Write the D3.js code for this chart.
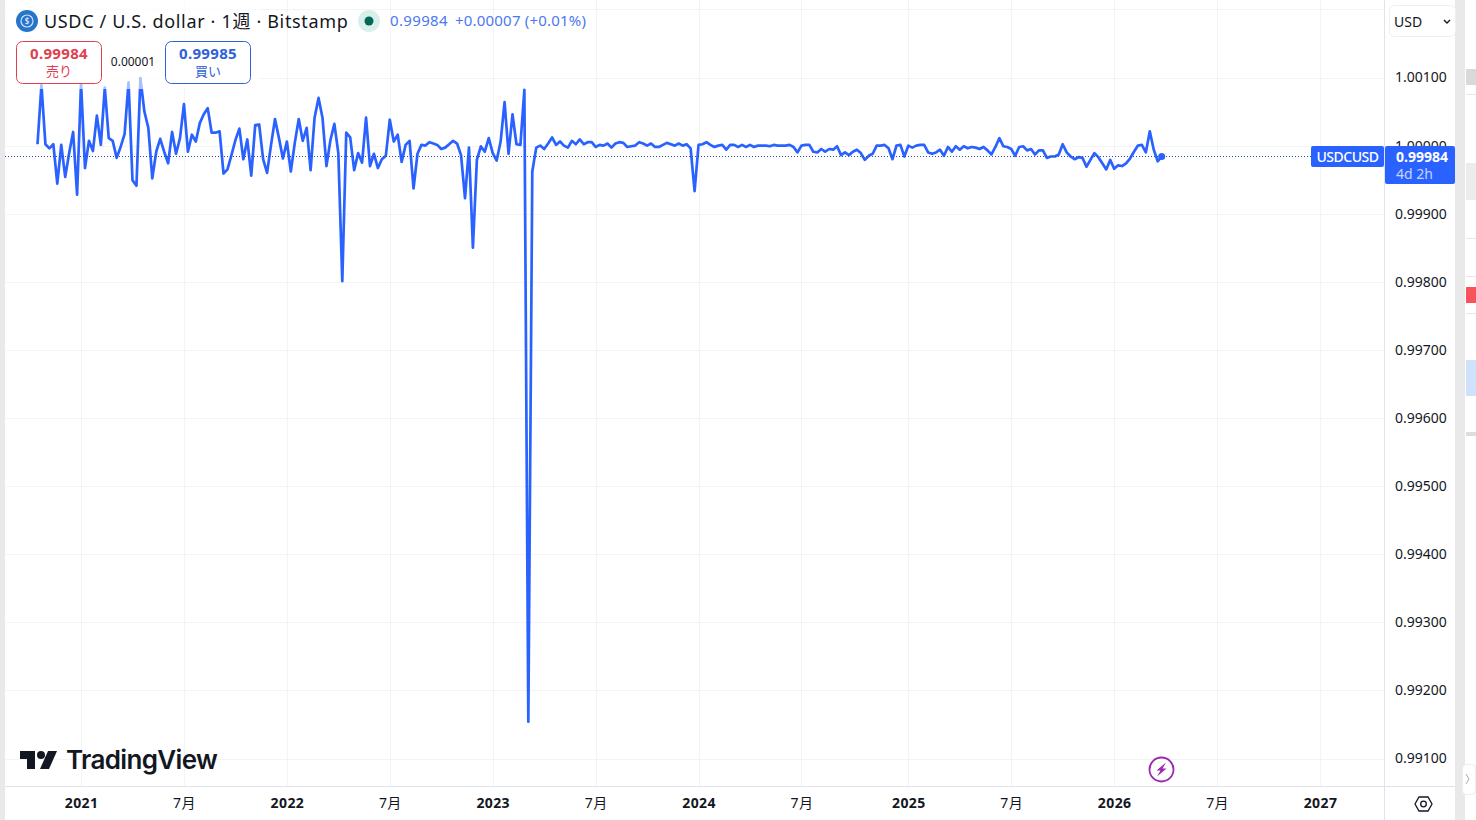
<!DOCTYPE html>
<html lang="ja">
<head>
<meta charset="utf-8">
<title>USDCUSD</title>
<script src="https://cdn.jsdelivr.net/npm/d3@7"></script>
<style>
  html, body { margin: 0; padding: 0; background: #fff; overflow: hidden; }
  svg { display: block; font-family: "Noto Sans", "Noto Sans CJK JP", sans-serif; }
  .tick text { fill: #131722; }
</style>
</head>
<body>
<div id="chart"></div>
<script>
// weekly closes, one per week from firstWeek
const firstWeek = "2020-10-19";
const closes = [
  1.00002, 1.00089, 1.00002, 0.99996, 1.00002, 0.99944, 1.00001, 0.99954, 0.99989, 1.00020,
  0.99928, 1.00092, 0.99967, 1.00007, 0.99992, 1.00044, 1.00001, 1.00085, 1.00011, 1.00007,
  0.99982, 0.99998, 1.00017, 1.00093, 0.99949, 0.99941, 1.00099, 1.00050, 1.00026, 0.99952,
  0.99991, 1.00010, 0.99991, 0.99974, 1.00020, 0.99988, 1.00011, 1.00061, 0.99991, 1.00016,
  1.00006, 1.00033, 1.00046, 1.00055, 1.00019, 1.00019, 1.00021, 0.99959, 0.99965, 0.99986,
  1.00008, 1.00025, 0.99980, 1.00009, 0.99956, 1.00030, 1.00031, 0.99980, 0.99960, 1.00001,
  1.00039, 1.00011, 0.99981, 1.00006, 0.99962, 1.00004, 1.00039, 1.00007, 1.00026, 0.99964,
  1.00041, 1.00070, 1.00041, 0.99970, 1.00008, 1.00032, 0.99989, 0.99801, 1.00019, 1.00012,
  0.99964, 0.99989, 0.99975, 1.00041, 0.99970, 0.99988, 0.99967, 0.99980, 0.99985, 1.00038,
  1.00006, 1.00016, 0.99976, 1.00001, 1.00007, 0.99937, 0.99988, 1.00001, 1.00000, 1.00005,
  1.00003, 1.00001, 0.99995, 0.99997, 1.00002, 1.00007, 1.00003, 0.99986, 0.99923, 0.99997,
  0.99850, 0.99979, 0.99999, 0.99991, 1.00011, 0.99989, 0.99978, 1.00006, 1.00064, 0.99988,
  1.00046, 1.00002, 1.00001, 1.00082, 0.99154, 0.99962, 0.99997, 1.00000, 0.99995, 1.00003,
  1.00012, 1.00001, 1.00006, 1.00000, 0.99997, 1.00007, 1.00002, 1.00009, 1.00002, 1.00005,
  1.00005, 0.99998, 1.00001, 1.00000, 1.00003, 0.99997, 1.00003, 1.00005, 1.00004, 0.99998,
  0.99999, 1.00000, 1.00005, 1.00003, 1.00000, 1.00003, 0.99998, 0.99998, 1.00001, 1.00004,
  1.00002, 1.00000, 1.00003, 1.00000, 1.00002, 0.99996, 0.99933, 1.00001, 1.00002, 1.00005,
  1.00001, 0.99998, 1.00000, 1.00001, 0.99994, 1.00001, 1.00001, 0.99998, 1.00001, 0.99998,
  1.00001, 0.99998, 1.00000, 1.00000, 1.00000, 0.99999, 1.00001, 1.00000, 1.00000, 1.00000,
  1.00001, 0.99998, 0.99990, 1.00000, 1.00001, 1.00001, 0.99991, 0.99990, 0.99995, 0.99991,
  0.99995, 0.99994, 0.99999, 0.99986, 0.99990, 0.99986, 0.99991, 0.99994, 0.99989, 0.99979,
  0.99985, 0.99988, 1.00000, 1.00000, 1.00001, 0.99996, 0.99980, 1.00000, 1.00001, 0.99984,
  1.00000, 0.99997, 1.00000, 1.00001, 1.00001, 0.99990, 0.99988, 0.99990, 0.99994, 0.99985,
  0.99998, 0.99991, 0.99999, 0.99994, 0.99999, 0.99996, 0.99998, 0.99997, 0.99995, 0.99998,
  0.99993, 0.99987, 0.99998, 1.00011, 0.99999, 0.99998, 0.99995, 0.99985, 0.99998, 0.99999,
  0.99993, 0.99995, 0.99987, 0.99993, 0.99993, 0.99982, 0.99984, 0.99984, 0.99987, 1.00002,
  0.99990, 0.99984, 0.99980, 0.99983, 0.99982, 0.99969, 0.99979, 0.99989, 0.99983, 0.99974,
  0.99965, 0.99979, 0.99966, 0.99971, 0.99970, 0.99974, 0.99981, 0.99991, 1.00000, 1.00001,
  0.99990, 1.00021, 0.99994, 0.99977, 0.99984
];

const timeTickDates = ["2021-01-04", "2021-07-05", "2022-01-03", "2022-07-04", "2023-01-02", "2023-07-03",
  "2024-01-01", "2024-07-01", "2025-01-06", "2025-07-07", "2026-01-05", "2026-07-06", "2027-01-04"];
const timeTickLabels = ["2021", "7月", "2022", "7月", "2023", "7月", "2024", "7月", "2025", "7月", "2026", "7月", "2027"];
const priceTicks = [0.991, 0.992, 0.993, 0.994, 0.995, 0.996, 0.997, 0.998, 0.999, 1.000, 1.001];
const gridOnlyPrices = [1.002];

const lastPrice = "0.99984";
const askPrice = "0.99985";
const spread = "0.00001";
const changeText = "+0.00007 (+0.01%)";
const symbol = "USDCUSD";
const countdown = "4d 2h";
const titleText = "USDC / U.S. dollar · 1週 · Bitstamp";

const BLUE = "#2962ff";
const INK = "#131722";
const GRID = "#f3f4f6";
const EDGE = "#e0e3eb";

const width = 1476, height = 820;
const plot = { left: 5, right: 1384, bottom: 786 };

const parseDay = d3.utcParse("%Y-%m-%d");
const weeks = closes.map((_, i) => d3.utcWeek.offset(d3.utcMonday.floor(parseDay(firstWeek)), i));
const tickDays = timeTickDates.map(parseDay);

const x = d3.scaleUtc()
  .domain([parseDay(firstWeek), parseDay("2027-01-04")])
  .range([37.5, 1320]);
const y = d3.scaleLinear()
  .domain([0.991, 1.001])
  .range([758.5, 77.5]);

const svg = d3.select("#chart").append("svg")
  .attr("width", width)
  .attr("height", height);

// page chrome round the chart
svg.append("rect").attr("width", width).attr("height", height).attr("fill", "#fff");
svg.append("rect").attr("width", plot.left).attr("height", height).attr("fill", "#e9e9e9");
svg.append("rect").attr("x", 1455).attr("width", 10).attr("height", height).attr("fill", "#e9e9e9");

// grid
const gridG = svg.append("g");
gridG.selectAll(".hgrid")
  .data(priceTicks.concat(gridOnlyPrices))
  .join("line")
  .attr("class", "hgrid")
  .attr("x1", plot.left).attr("x2", plot.right)
  .attr("y1", d => Math.round(y(d)) + 0.5)
  .attr("y2", d => Math.round(y(d)) + 0.5)
  .attr("stroke", GRID);
gridG.selectAll(".vgrid")
  .data(tickDays)
  .join("line")
  .attr("class", "vgrid")
  .attr("x1", d => Math.round(x(d)) + 0.5)
  .attr("x2", d => Math.round(x(d)) + 0.5)
  .attr("y1", 0).attr("y2", plot.bottom)
  .attr("stroke", GRID);

// price line
const line = d3.line()
  .x((_, i) => x(weeks[i]))
  .y(d => y(d));

svg.append("path")
  .datum(closes)
  .attr("fill", "none")
  .attr("stroke", BLUE)
  .attr("stroke-width", 2.7)
  .attr("stroke-linejoin", "round")
  .attr("d", line);

// legend area washes out the line under it
svg.append("rect")
  .attr("x", plot.left).attr("y", 0)
  .attr("width", 255).attr("height", 89)
  .attr("fill", "#fff").attr("opacity", 0.6);

const lastY = y(+lastPrice);
const lastX = x(weeks[weeks.length - 1]);

svg.append("line")
  .attr("x1", plot.left).attr("x2", 1311)
  .attr("y1", Math.round(lastY) + 0.5).attr("y2", Math.round(lastY) + 0.5)
  .attr("stroke", "#2a4fa8")
  .attr("stroke-dasharray", "1 2");

svg.append("circle")
  .attr("cx", lastX).attr("cy", lastY).attr("r", 3.5)
  .attr("fill", BLUE);

// axes
svg.append("line").attr("x1", plot.left).attr("x2", 1455).attr("y1", plot.bottom + 0.5).attr("y2", plot.bottom + 0.5).attr("stroke", EDGE);
svg.append("line").attr("x1", plot.right + 0.5).attr("x2", plot.right + 0.5).attr("y1", 0).attr("y2", height).attr("stroke", EDGE);

const xAxis = svg.append("g")
  .attr("transform", `translate(0,${plot.bottom})`)
  .call(d3.axisBottom(x)
    .tickValues(tickDays)
    .tickSize(0)
    .tickPadding(12)
    .tickFormat((_, i) => timeTickLabels[i]));
xAxis.attr("font-family", null);
xAxis.select(".domain").remove();
xAxis.selectAll("text")
  .style("font-size", "14px")
  .style("letter-spacing", "0.4px")
  .style("font-weight", (_, i) => timeTickLabels[i] === "7月" ? 400 : 700);

const yAxis = svg.append("g")
  .attr("transform", `translate(${plot.right},0)`)
  .call(d3.axisRight(y)
    .tickValues(priceTicks)
    .tickSize(0)
    .tickPadding(11)
    .tickFormat(d3.format(".5f")));
yAxis.attr("font-family", null);
yAxis.select(".domain").remove();
yAxis.selectAll("text").style("font-size", "14px");

// last price tags
svg.append("rect").attr("x", 1311).attr("y", 146).attr("width", 73).attr("height", 21).attr("rx", 2).attr("fill", BLUE);
svg.append("text").attr("x", 1347.5).attr("y", 161.5).attr("text-anchor", "middle")
  .style("font-size", "14px").style("font-weight", 500).style("letter-spacing", "-0.5px").attr("fill", "#fff").text(symbol);
svg.append("rect").attr("x", 1385).attr("y", 146).attr("width", 70).attr("height", 38).attr("rx", 2).attr("fill", BLUE);
svg.append("text").attr("x", 1396).attr("y", 161.5)
  .style("font-size", "14px").style("font-weight", 700).attr("fill", "#fff").text(lastPrice);
svg.append("text").attr("x", 1396).attr("y", 178.5)
  .style("font-size", "14px").attr("fill", "#c6d4fb").text(countdown);

// header
svg.append("circle").attr("cx", 27).attr("cy", 21).attr("r", 11).attr("fill", "#2775ca");
svg.append("circle").attr("cx", 27).attr("cy", 21).attr("r", 6).attr("fill", "none").attr("stroke", "#cfe2f7").attr("stroke-width", 1.2);
svg.append("text").attr("x", 27).attr("y", 24).attr("text-anchor", "middle")
  .style("font-size", "8px").attr("fill", "#fff").text("$");
svg.append("text").attr("x", 44).attr("y", 27.5)
  .style("font-size", "18px").style("letter-spacing", "0.66px").attr("fill", INK).text(titleText);
svg.append("circle").attr("cx", 369).attr("cy", 21).attr("r", 11).attr("fill", "#d9efeb");
svg.append("circle").attr("cx", 369).attr("cy", 21).attr("r", 4.5).attr("fill", "#056656");
svg.append("text").attr("x", 390).attr("y", 26)
  .style("font-size", "15px").style("letter-spacing", "0.35px").attr("fill", "#4c78f0").text(lastPrice);
svg.append("text").attr("x", 455).attr("y", 26)
  .style("font-size", "15px").style("letter-spacing", "0.2px").attr("fill", "#4c78f0").text(changeText);

// sell / buy buttons
function quoteBox(left, color, price, label) {
  svg.append("rect").attr("x", left + 0.5).attr("y", 41.5).attr("width", 85).attr("height", 42).attr("rx", 6)
    .attr("fill", "#fff").attr("stroke", color);
  svg.append("text").attr("x", left + 43).attr("y", 59).attr("text-anchor", "middle")
    .style("font-size", "15px").style("font-weight", 700).style("letter-spacing", "0.3px").attr("fill", color).text(price);
  svg.append("text").attr("x", left + 43).attr("y", 76).attr("text-anchor", "middle")
    .style("font-size", "13px").attr("fill", color).text(label);
}
quoteBox(16, "#e0404f", lastPrice, "売り");
quoteBox(165, "#2f62d8", askPrice, "買い");
svg.append("text").attr("x", 133).attr("y", 66).attr("text-anchor", "middle")
  .style("font-size", "12px").attr("fill", INK).text(spread);

// currency select
svg.append("rect").attr("x", 1389.5).attr("y", 5.5).attr("width", 66).attr("height", 31).attr("rx", 5)
  .attr("fill", "#fff").attr("stroke", "#eeeff2");
svg.append("text").attr("x", 1394).attr("y", 26.5).style("font-size", "14px").attr("fill", INK).text("USD");
svg.append("path").attr("d", "M1444 20l3 3 3-3").attr("fill", "none").attr("stroke", INK).attr("stroke-width", 1.4);

// logo
const logo = svg.append("g").attr("transform", "translate(20,751)");
logo.append("path").attr("fill", INK).attr("d", "M0 0H15V18H7V8H0Z");
logo.append("circle").attr("cx", 21).attr("cy", 4).attr("r", 4).attr("fill", INK);
logo.append("path").attr("fill", INK).attr("d", "M28 0H37L29 18H20Z");
svg.append("text").attr("x", 66).attr("y", 769)
  .style("font-size", "26px").style("font-weight", 600).style("font-family", "Inter, 'Noto Sans', sans-serif")
  .style("letter-spacing", "-0.65px").attr("fill", INK).text("TradingView");

// lightning badge
svg.append("circle").attr("cx", 1161.5).attr("cy", 769.5).attr("r", 12).attr("fill", "#fff").attr("stroke", "#9c27b0").attr("stroke-width", 1.8);
svg.append("path").attr("fill", "#9c27b0").attr("d", "M1166 762.5l-9.5 8h4l-3.5 6 9.5-8h-4z");

// settings hexagon
svg.append("path").attr("fill", "none").attr("stroke", INK).attr("stroke-width", 1.3)
  .attr("d", "M1415 804l4-7h9l4 7-4 7h-9z");
svg.append("circle").attr("cx", 1423.5).attr("cy", 804).attr("r", 2.8).attr("fill", "none").attr("stroke", INK).attr("stroke-width", 1.3);

// side panel clipped at the window edge
const sidePanel = [
  { y: 69, h: 16, fill: "#d9d9d9" }, { y: 94, h: 1, fill: "#e6e6e6" },
  { y: 163, h: 37, fill: "#ececec" }, { y: 238, h: 1, fill: "#e6e6e6" }, { y: 276, h: 1, fill: "#e6e6e6" },
  { y: 287, h: 16, fill: "#f9525a" }, { y: 313, h: 1, fill: "#e6e6e6" },
  { y: 360, h: 36, fill: "#cfe2fb" }, { y: 432, h: 4, fill: "#dddddd" }
];
svg.selectAll(".side")
  .data(sidePanel)
  .join("rect")
  .attr("class", "side")
  .attr("x", 1466).attr("width", 10)
  .attr("y", d => d.y).attr("height", d => d.h)
  .attr("fill", d => d.fill);
svg.append("rect").attr("x", 1462.5).attr("y", 764.5).attr("width", 13).attr("height", 30).attr("rx", 4)
  .attr("fill", "#fff").attr("stroke", "#eeeeee");
svg.append("path").attr("d", "M1466 774l3 5-3 5").attr("fill", "none").attr("stroke", "#aaa");
</script>
</body>
</html>
